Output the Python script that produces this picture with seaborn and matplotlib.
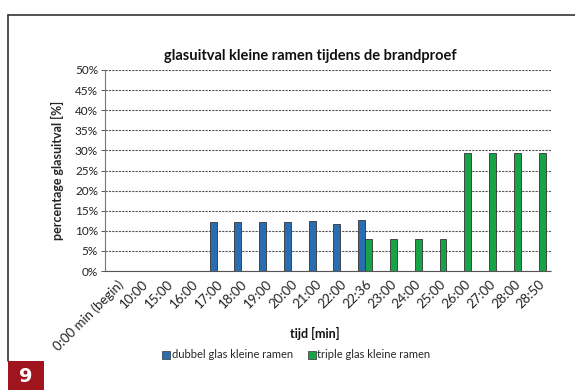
import numpy as np
import pandas as pd
import matplotlib
matplotlib.use("Agg")
import matplotlib.pyplot as plt
from matplotlib.patches import Rectangle
from matplotlib.lines import Line2D
import seaborn as sns

# Time steps during the fire test
tijden = ["0:00 min (begin)", "10:00", "15:00", "16:00", "17:00", "18:00", "19:00",
          "20:00", "21:00", "22:00", "22:36", "23:00", "24:00", "25:00", "26:00",
          "27:00", "28:00", "28:50"]

# Glass fall-out percentages (NaN = no bar)
dubbel = [np.nan, np.nan, np.nan, np.nan, 12.1, 12.1, 12.1, 12.1, 12.5, 11.8, 12.8,
          np.nan, np.nan, np.nan, np.nan, np.nan, np.nan, np.nan]
triple = [np.nan, np.nan, np.nan, np.nan, np.nan, np.nan, np.nan, np.nan, np.nan, np.nan, 8.0,
          8.0, 8.0, 8.0, 29.4, 29.4, 29.4, 29.4]

reeksen = ["dubbel glas kleine ramen", "triple glas kleine ramen"]
kleuren = ["#2a6db0", "#17a348"]

df = pd.DataFrame({
    "tijd": tijden * 2,
    "waarde": dubbel + triple,
    "reeks": [reeksen[0]] * len(tijden) + [reeksen[1]] * len(tijden),
})

sns.set_theme(style="white")
plt.rcParams["font.family"] = ["Lato", "DejaVu Sans"]

fig = plt.figure(figsize=(5.75, 3.9), dpi=100)
ax = fig.add_axes([105 / 575, 1 - 271 / 390, (551 - 105) / 575, (271 - 70) / 390])

sns.barplot(data=df, x="tijd", y="waarde", hue="reeks", order=tijden,
            hue_order=reeksen, palette=kleuren, width=0.56, dodge=True,
            edgecolor="#333333", linewidth=0.6, saturation=1, ax=ax,
            errorbar=None, legend=False)

ax.set_ylim(0, 50)
ax.set_xlim(-0.5, len(tijden) - 0.5)
ax.set_yticks(np.arange(0, 51, 5))
ax.set_yticklabels([f"{v}%" for v in range(0, 51, 5)], fontsize=8.5, color="#222222")
ax.yaxis.grid(True, linestyle=(0, (2, 1)), color="#555555", linewidth=0.8)
ax.set_axisbelow(True)

for s in ["top", "right"]:
    ax.spines[s].set_visible(False)
ax.spines["left"].set_linestyle((0, (2, 1)))
ax.spines["left"].set_color("#777777")
ax.spines["left"].set_linewidth(0.8)
ax.spines["bottom"].set_linestyle((0, (2, 1)))
ax.spines["bottom"].set_color("#555555")
ax.spines["bottom"].set_linewidth(0.8)

ax.set_xticks(range(len(tijden)))
ax.set_xticklabels(tijden, rotation=45, ha="right", rotation_mode="anchor",
                   fontsize=9.5, color="#222222")
ax.tick_params(axis="x", length=0, pad=5)
ax.set_xticks(np.arange(-0.5, len(tijden), 1), minor=True)
ax.tick_params(axis="x", which="minor", length=3, color="#555555", width=0.7)
ax.tick_params(axis="y", length=3, color="#555555", width=0.7, left=True, pad=2)

ax.set_xlabel("")
ax.set_ylabel("percentage glasuitval [%]", fontsize=9, fontweight="bold", labelpad=8)
fig.text(315 / 575, 1 - 333 / 390, "tijd [min]", ha="center", va="center",
         fontsize=9, fontweight="bold", color="#111111")

fig.text(310 / 575, 1 - 56 / 390, "glasuitval kleine ramen tijdens de brandproef",
         ha="center", va="center", fontsize=10.5, fontweight="bold", color="#111111")

handles = [Line2D([], [], marker="s", linestyle="none", markersize=6,
                  markerfacecolor=c, markeredgecolor="#333333", markeredgewidth=0.5)
           for c in kleuren]
fig.legend(handles, reeksen, loc="center", bbox_to_anchor=(296 / 575, 1 - 355 / 390),
           ncol=2, frameon=False, fontsize=8, handletextpad=0.1, columnspacing=1.3,
           handlelength=0.8)

# Page frame and figure number badge
fig.add_artist(Line2D([8 / 575, 1.0], [1 - 15 / 390, 1 - 15 / 390],
                      transform=fig.transFigure, color="#333333", linewidth=1.2))
fig.add_artist(Line2D([8 / 575, 8 / 575], [1 - 15 / 390, 1 - 361 / 390],
                      transform=fig.transFigure, color="#333333", linewidth=1.2))
fig.add_artist(Rectangle((8 / 575, 0), 36 / 575, 29 / 390, transform=fig.transFigure,
                         facecolor="#a0141e", edgecolor="none"))
fig.text(26 / 575, 14 / 390, "9", ha="center", va="center", fontsize=14,
         fontweight="bold", color="white", family=["DejaVu Sans"])

fig.savefig("out.png", dpi=100)
